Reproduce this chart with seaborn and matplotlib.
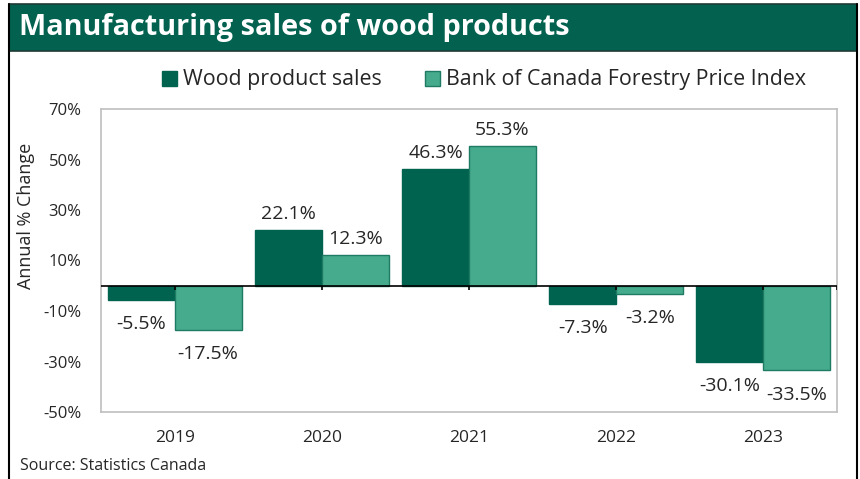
import matplotlib
matplotlib.use("Agg")
import matplotlib.pyplot as plt
from matplotlib.patches import Rectangle
from matplotlib.lines import Line2D
import seaborn as sns
import pandas as pd

years = ["2019", "2020", "2021", "2022", "2023"]
wood_sales = [-5.5, 22.1, 46.3, -7.3, -30.1]
forestry_index = [-17.5, 12.3, 55.3, -3.2, -33.5]
series_names = ["Wood product sales", "Bank of Canada Forestry Price Index"]
y_ticks = [70, 50, 30, 10, -10, -30, -50]

dark = "#00634F"
light = "#45AB8C"
edge_light = "#1E7A62"
text_col = "#262626"

df = pd.DataFrame({
    "Year": years * 2,
    "Value": wood_sales + forestry_index,
    "Series": [series_names[0]] * len(years) + [series_names[1]] * len(years),
})

sns.set_theme(style="white")
plt.rcParams["font.family"] = ["Open Sans", "DejaVu Sans"]

fig = plt.figure(figsize=(8.6, 4.79), dpi=100)
W, H = 860, 479
ax = fig.add_axes([101 / W, 1 - 412 / H, (837 - 101) / W, (412 - 109) / H])

sns.barplot(data=df, x="Year", y="Value", hue="Series", order=years,
            hue_order=series_names, palette=[dark, light], width=0.91,
            gap=0, saturation=1, legend=False, ax=ax)

for i, cont in enumerate(ax.containers):
    vals = [p.get_height() for p in cont.patches]
    for p in cont.patches:
        p.set_edgecolor(dark if i == 0 else edge_light)
        p.set_linewidth(1.0)
    ax.bar_label(cont, labels=[f"{v:.1f}%" if v >= 0 else "" for v in vals],
                 padding=5, fontsize=14, color=text_col)
    ax.bar_label(cont, labels=[f"{v:.1f}%" if v < 0 else "" for v in vals],
                 padding=11, fontsize=14, color=text_col)

ax.set_ylim(-50, 70)
ax.set_xlim(-0.5, len(years) - 0.5)
ax.set_yticks(y_ticks)
ax.set_yticklabels([f"{v}%" for v in y_ticks])
ax.tick_params(axis="y", length=0, pad=14, labelsize=12, labelcolor=text_col)
ax.tick_params(axis="x", length=0, pad=13, labelsize=12.5, labelcolor=text_col)
ax.set_xlabel("")
ax.set_ylabel("Annual % Change", fontsize=13, color=text_col)
ax.yaxis.set_label_coords(-0.089, 0.647)
for s in ax.spines.values():
    s.set_visible(True)
    s.set_color("#BFBFBF")
    s.set_linewidth(1.2)

ax.axhline(0, color="black", lw=1.2, zorder=5)
tick_pos = list(range(len(years))) + [len(years) - 0.5]
ax.vlines(tick_pos, -1.6, 0, color="black", lw=1.2, zorder=5)

handles = [Rectangle((0, 0), 1, 1, facecolor=dark, edgecolor=dark),
           Rectangle((0, 0), 1, 1, facecolor=light, edgecolor=edge_light)]
fig.legend(handles, series_names, loc="center", bbox_to_anchor=(484 / W, 1 - 80 / H),
           ncol=2, frameon=False, fontsize=15.4, handlelength=0.7, handleheight=0.7,
           handletextpad=0.3, columnspacing=2.0, labelcolor=text_col)

# title bar and frame
fig.patches.append(Rectangle((9 / W, 1 - 51 / H), (857 - 9) / W, (51 - 4) / H,
                             transform=fig.transFigure, facecolor="#03614F",
                             edgecolor="#1F3B34", lw=1.2, zorder=0))
fig.lines.append(Line2D([9 / W, 9 / W], [0, 1 - 4 / H], transform=fig.transFigure,
                        color="black", lw=1.5))
fig.lines.append(Line2D([857 / W, 857 / W], [0, 1 - 4 / H], transform=fig.transFigure,
                        color="black", lw=1.5))
fig.text(19 / W, 1 - 28 / H, "Manufacturing sales of wood products", color="white",
         fontsize=20.8, fontweight="bold", va="center", ha="left",
         family=["Open Sans", "DejaVu Sans"])
fig.text(20 / W, 1 - 466 / H, "Source: Statistics Canada", fontsize=11.5,
         color=text_col, va="center", ha="left")

fig.savefig("out.png", dpi=100)
